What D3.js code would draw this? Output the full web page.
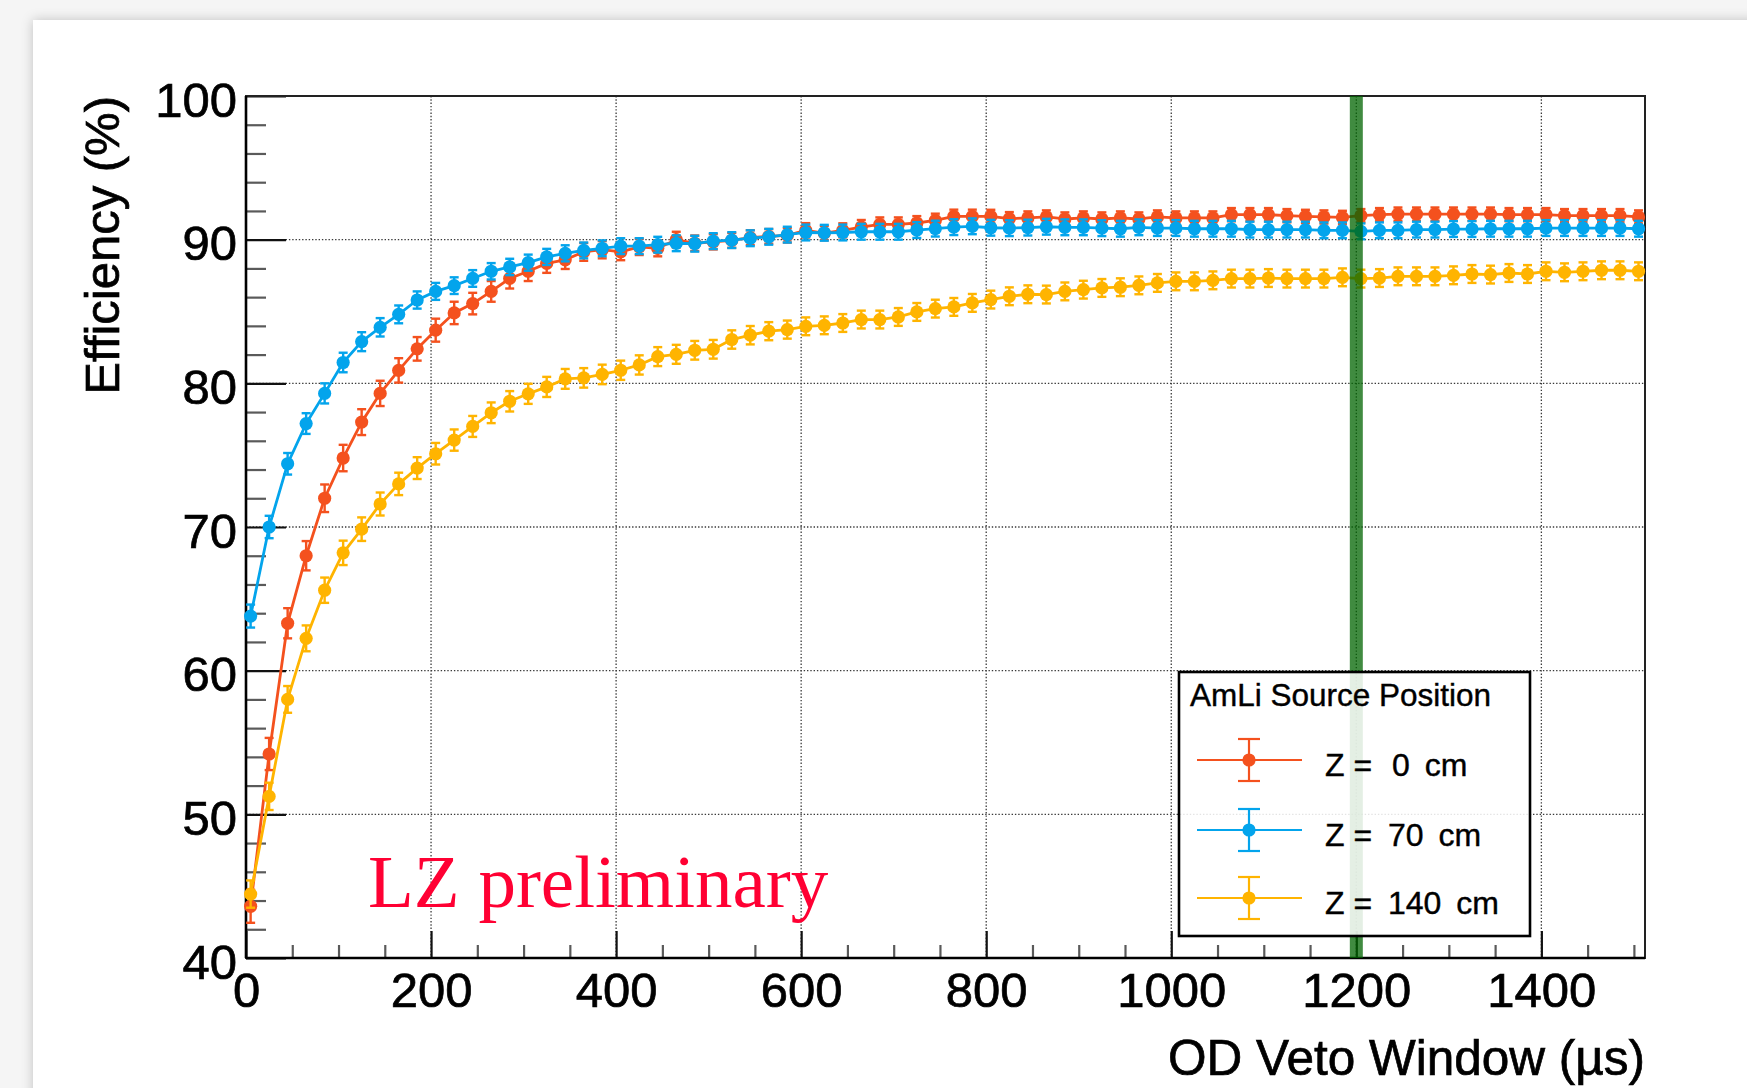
<!DOCTYPE html>
<html>
<head>
<meta charset="utf-8">
<script src="https://cdn.jsdelivr.net/npm/d3@7"></script>
<style>
  html, body { margin: 0; padding: 0; background: #f4f4f4; }
  svg { display: block; }
</style>
</head>
<body>
<svg id="chart" width="1747" height="1088"></svg>
<script>
// OD veto window length (µs) for each efficiency measurement
const windowUs = [5,25,45,65,85,105,125,145,165,185,205,225,245,265,285,305,325,345,365,385,
  405,425,445,465,485,505,525,545,565,585,605,625,645,665,685,705,725,745,765,785,
  805,825,845,865,885,905,925,945,965,985,1005,1025,1045,1065,1085,1105,1125,1145,1165,1185,
  1205,1225,1245,1265,1285,1305,1325,1345,1365,1385,1405,1425,1445,1465,1485,1505];

// Neutron tagging efficiency (%) for each AmLi source height
const effZ0 = [43.6,54.2,63.3,68.0,72.0,74.8,77.3,79.3,80.9,82.4,
  83.7,84.9,85.55,86.4,87.3,87.8,88.35,88.6,89.15,89.3,
  89.15,89.5,89.4,90.0,89.75,89.85,89.95,90.14,90.23,90.3,
  90.65,90.46,90.65,90.88,91.07,91.07,91.16,91.34,91.62,91.62,
  91.62,91.46,91.51,91.58,91.44,91.51,91.44,91.51,91.44,91.58,
  91.51,91.51,91.51,91.74,91.74,91.74,91.67,91.62,91.58,91.55,
  91.67,91.74,91.78,91.78,91.78,91.78,91.78,91.78,91.74,91.74,
  91.74,91.67,91.67,91.67,91.67,91.58];
const effZ70 = [63.8,70.0,74.4,77.2,79.3,81.45,82.9,83.9,84.8,85.8,
  86.4,86.8,87.3,87.8,88.1,88.4,88.8,89.05,89.25,89.4,
  89.55,89.55,89.65,89.75,89.72,89.9,89.97,90.1,90.2,90.35,
  90.5,90.48,90.5,90.55,90.55,90.55,90.67,90.77,90.87,90.93,
  90.83,90.8,90.84,90.9,90.86,90.86,90.8,90.76,90.86,90.81,
  90.81,90.76,90.76,90.76,90.7,90.7,90.7,90.7,90.65,90.65,
  90.58,90.65,90.65,90.7,90.7,90.74,90.74,90.76,90.76,90.76,
  90.81,90.81,90.81,90.81,90.81,90.76];
const effZ140 = [44.45,51.25,58.0,62.25,65.6,68.2,69.85,71.6,73.0,74.1,
  75.1,76.05,77.0,77.95,78.75,79.27,79.75,80.31,80.38,80.62,
  80.91,81.28,81.86,82.02,82.3,82.37,83.05,83.35,83.63,83.74,
  83.97,84.04,84.2,84.44,84.44,84.62,84.97,85.2,85.32,85.6,
  85.83,86.06,86.2,86.18,86.4,86.52,86.64,86.69,86.82,86.99,
  87.1,87.1,87.17,87.29,87.29,87.33,87.29,87.29,87.29,87.38,
  87.29,87.33,87.45,87.45,87.45,87.52,87.61,87.57,87.68,87.61,
  87.8,87.73,87.8,87.87,87.87,87.8];

// Statistical uncertainties (%) on each point
const errZ0 = [1.15,1.12,1.05,1.02,0.96,0.92,0.9,0.88,0.85,0.82,
  0.8,0.78,0.75,0.72,0.7,0.68,0.66,0.64,0.62,0.6,
  0.58,0.57,0.56,0.55,0.54,0.53,0.52,0.52,0.51,0.5,
  0.5,0.5,0.49,0.49,0.48,0.48,0.48,0.47,0.47,0.47,
  0.46,0.46,0.46,0.46,0.46,0.46,0.46,0.46,0.46,0.46,
  0.46,0.46,0.46,0.46,0.46,0.46,0.46,0.46,0.46,0.46,
  0.46,0.46,0.46,0.46,0.46,0.46,0.46,0.46,0.46,0.46,
  0.46,0.46,0.46,0.46,0.46,0.46];
const errZ70 = [0.8,0.78,0.75,0.72,0.7,0.68,0.66,0.64,0.62,0.6,
  0.59,0.58,0.58,0.57,0.57,0.56,0.56,0.56,0.55,0.55,
  0.55,0.55,0.55,0.55,0.55,0.55,0.55,0.55,0.55,0.55,
  0.55,0.55,0.55,0.55,0.55,0.55,0.55,0.55,0.55,0.55,
  0.55,0.55,0.55,0.55,0.55,0.55,0.55,0.55,0.55,0.55,
  0.55,0.55,0.55,0.55,0.55,0.55,0.55,0.55,0.55,0.55,
  0.55,0.55,0.55,0.55,0.55,0.55,0.55,0.55,0.55,0.55,
  0.55,0.55,0.55,0.55,0.55,0.55];
const errZ140 = [0.95,0.95,0.93,0.9,0.88,0.85,0.82,0.8,0.78,0.76,
  0.75,0.74,0.73,0.72,0.71,0.7,0.7,0.69,0.68,0.68,
  0.67,0.67,0.66,0.66,0.65,0.65,0.64,0.64,0.63,0.63,
  0.62,0.62,0.62,0.62,0.62,0.62,0.62,0.62,0.62,0.62,
  0.62,0.62,0.62,0.62,0.62,0.62,0.62,0.62,0.62,0.62,
  0.62,0.62,0.62,0.62,0.62,0.62,0.62,0.62,0.62,0.62,
  0.62,0.62,0.62,0.62,0.62,0.62,0.62,0.62,0.62,0.62,
  0.62,0.62,0.62,0.62,0.62,0.62];

const seriesLabels = ["Z =  0 cm", "Z = 70 cm", "Z = 140 cm"];
const seriesColors = ["#f4511e", "#03a4ec", "#ffb400"];
const xTickValues = [0, 200, 400, 600, 800, 1000, 1200, 1400];
const yTickValues = [40, 50, 60, 70, 80, 90, 100];
const chosenWindow = 1200;
const xDomain = [0, 1512];
const yDomain = [40, 100];

const series = [
  { label: seriesLabels[0], color: seriesColors[0], y: effZ0, err: errZ0 },
  { label: seriesLabels[1], color: seriesColors[1], y: effZ70, err: errZ70 },
  { label: seriesLabels[2], color: seriesColors[2], y: effZ140, err: errZ140 }
];

const svg = d3.select("#chart");
const W = 1747, H = 1088;
const frame = { left: 246, right: 1645, top: 96, bottom: 958 };

const x = d3.scaleLinear().domain(xDomain).range([frame.left, frame.right]);
const y = d3.scaleLinear().domain(yDomain).range([frame.bottom, frame.top]);

// page background and the white card with a soft shadow
const defs = svg.append("defs");
const sh = defs.append("filter").attr("id", "cardShadow")
  .attr("x", "-5%").attr("y", "-5%").attr("width", "110%").attr("height", "110%");
sh.append("feDropShadow").attr("dx", 0).attr("dy", 0).attr("stdDeviation", 6)
  .attr("flood-color", "#000").attr("flood-opacity", 0.22);
svg.append("rect").attr("width", W).attr("height", H).attr("fill", "#f5f5f5");
svg.append("rect").attr("x", 33).attr("y", 20).attr("width", W + 40).attr("height", H + 40)
  .attr("fill", "#ffffff").attr("filter", "url(#cardShadow)");

const font = "'Liberation Sans', Arial, Helvetica, sans-serif";
const textWeight = 0.7; // thin outline so glyphs carry the same weight as the ROOT export

// dotted grid at the major ticks
const grid = svg.append("g");
grid.selectAll("line.gx").data(xTickValues.filter(v => v > xDomain[0]))
  .join("line").attr("class", "gx")
  .attr("x1", d => x(d)).attr("x2", d => x(d))
  .attr("y1", frame.top).attr("y2", frame.bottom)
  .attr("stroke", "#3a3a3a").attr("stroke-width", 1.3).attr("stroke-dasharray", "1.4,1.9");
grid.selectAll("line.gy").data(yTickValues.filter(v => v > yDomain[0] && v < yDomain[1]))
  .join("line").attr("class", "gy")
  .attr("x1", frame.left).attr("x2", frame.right)
  .attr("y1", d => y(d)).attr("y2", d => y(d))
  .attr("stroke", "#3a3a3a").attr("stroke-width", 1.3).attr("stroke-dasharray", "1.4,1.9");

// y axis: minor ticks every 2 %, major every 10 %, all pointing into the frame
const yMinor = y.ticks(30).filter(v => yTickValues.indexOf(v) < 0);
svg.append("g").attr("transform", `translate(${frame.left},0)`)
  .call(d3.axisLeft(y).tickValues(yMinor).tickSizeInner(-20).tickSizeOuter(0).tickFormat(""))
  .call(g => g.select(".domain").remove())
  .call(g => g.selectAll(".tick line").attr("stroke", "#5a5a5a").attr("stroke-width", 2.2));
svg.append("g").attr("transform", `translate(${frame.left},0)`)
  .call(d3.axisLeft(y).tickValues(yTickValues).tickSizeInner(-40).tickSizeOuter(0).tickPadding(9)
    .tickFormat(d3.format("d")))
  .call(g => g.select(".domain").remove())
  .call(g => g.selectAll(".tick line").attr("stroke", "#111").attr("stroke-width", 2.2))
  .call(g => g.selectAll(".tick text").attr("font-family", font).attr("font-size", 49)
    .attr("fill", "#000").attr("stroke", "#000").attr("stroke-width", textWeight).attr("dy", "0.41em"));

// x axis: minor ticks every 50 µs, major every 200 µs
const xMinor = d3.range(0, xDomain[1], 50).filter(v => xTickValues.indexOf(v) < 0);
svg.append("g").attr("transform", `translate(0,${frame.bottom})`)
  .call(d3.axisBottom(x).tickValues(xMinor).tickSizeInner(-13).tickSizeOuter(0).tickFormat(""))
  .call(g => g.select(".domain").remove())
  .call(g => g.selectAll(".tick line").attr("stroke", "#5a5a5a").attr("stroke-width", 2.2));
svg.append("g").attr("transform", `translate(0,${frame.bottom})`)
  .call(d3.axisBottom(x).tickValues(xTickValues).tickSizeInner(-27).tickSizeOuter(0).tickPadding(14)
    .tickFormat(d3.format("d")))
  .call(g => g.select(".domain").remove())
  .call(g => g.selectAll(".tick line").attr("stroke", "#111").attr("stroke-width", 2.2))
  .call(g => g.selectAll(".tick text").attr("font-family", font).attr("font-size", 49)
    .attr("fill", "#000").attr("stroke", "#000").attr("stroke-width", textWeight));

// frame
svg.append("rect").attr("x", frame.left).attr("y", frame.top)
  .attr("width", frame.right - frame.left).attr("height", frame.bottom - frame.top)
  .attr("fill", "none").attr("stroke", "#222").attr("stroke-width", 2);
svg.append("line").attr("x1", frame.left).attr("x2", frame.right)
  .attr("y1", frame.bottom).attr("y2", frame.bottom).attr("stroke", "#000").attr("stroke-width", 2.6);
svg.append("line").attr("x1", frame.left).attr("x2", frame.left)
  .attr("y1", frame.top).attr("y2", frame.bottom).attr("stroke", "#000").attr("stroke-width", 2.6);

// axis titles
svg.append("text").attr("x", frame.right).attr("y", 1075).attr("text-anchor", "end")
  .attr("font-family", font).attr("font-size", 49.5).attr("fill", "#000")
  .attr("stroke", "#000").attr("stroke-width", textWeight)
  .text("OD Veto Window (µs)");
svg.append("text").attr("transform", `translate(119,${frame.top}) rotate(-90)`)
  .attr("text-anchor", "end").attr("font-family", font).attr("font-size", 49).attr("fill", "#000")
  .attr("stroke", "#000").attr("stroke-width", textWeight)
  .text("Efficiency (%)");

// data: connecting line, error bars with end caps, filled circle markers
const line = d3.line().x((d, i) => x(windowUs[i])).y(d => y(d));
const capHalf = 4.5;
series.forEach(s => {
  const g = svg.append("g");
  g.append("path").datum(s.y).attr("d", line)
    .attr("fill", "none").attr("stroke", s.color).attr("stroke-width", 2.8).attr("stroke-linejoin", "round");
  const pts = s.y.map((v, i) => ({ xv: windowUs[i], yv: v, e: s.err[i] }));
  const eb = g.selectAll("g.eb").data(pts).join("g").attr("class", "eb")
    .attr("stroke", s.color).attr("stroke-width", 2.4);
  eb.append("line").attr("x1", d => x(d.xv)).attr("x2", d => x(d.xv))
    .attr("y1", d => y(d.yv + d.e)).attr("y2", d => y(d.yv - d.e));
  eb.append("line").attr("x1", d => x(d.xv) - capHalf).attr("x2", d => x(d.xv) + capHalf)
    .attr("y1", d => y(d.yv + d.e)).attr("y2", d => y(d.yv + d.e));
  eb.append("line").attr("x1", d => x(d.xv) - capHalf).attr("x2", d => x(d.xv) + capHalf)
    .attr("y1", d => y(d.yv - d.e)).attr("y2", d => y(d.yv - d.e));
  g.selectAll("circle").data(pts).join("circle")
    .attr("cx", d => x(d.xv)).attr("cy", d => y(d.yv)).attr("r", 6.6).attr("fill", s.color);
});

// chosen veto window
svg.append("rect").attr("x", x(chosenWindow) - 6.5).attr("width", 13)
  .attr("y", frame.top).attr("height", frame.bottom - frame.top)
  .attr("fill", "#006400").attr("opacity", 0.75);

// preliminary stamp
svg.append("text").attr("x", 368).attr("y", 907)
  .attr("font-family", "'Liberation Serif', 'Times New Roman', serif").attr("font-size", 75)
  .attr("fill", "#ff0033").text("LZ preliminary");

// legend
const leg = { x: 1179, y: 672, w: 351, h: 264 };
const lg = svg.append("g");
lg.append("rect").attr("x", leg.x).attr("y", leg.y).attr("width", leg.w).attr("height", leg.h)
  .attr("fill", "#ffffff").attr("fill-opacity", 0.86).attr("stroke", "#000").attr("stroke-width", 2.6);
lg.append("text").attr("x", 1190).attr("y", 706).attr("font-family", font).attr("font-size", 31.5)
  .attr("fill", "#000").attr("stroke", "#000").attr("stroke-width", 0.4).text("AmLi Source Position");
const rowY = [760, 830, 898];
const valueX = [1392, 1388, 1388];
series.forEach((s, i) => {
  const cy = rowY[i];
  const r = lg.append("g").attr("stroke", s.color).attr("stroke-width", 2.2);
  r.append("line").attr("x1", 1197).attr("x2", 1302).attr("y1", cy).attr("y2", cy);
  r.append("line").attr("x1", 1249).attr("x2", 1249).attr("y1", cy - 21).attr("y2", cy + 21);
  r.append("line").attr("x1", 1238).attr("x2", 1260).attr("y1", cy - 21).attr("y2", cy - 21);
  r.append("line").attr("x1", 1238).attr("x2", 1260).attr("y1", cy + 21).attr("y2", cy + 21);
  lg.append("circle").attr("cx", 1249).attr("cy", cy).attr("r", 6.6).attr("fill", s.color);
  // "Z =" followed by the height, the heights in their own column
  const parts = s.label.split("=");
  const t = lg.append("text").attr("y", cy + 16).attr("font-family", font).attr("font-size", 32)
    .attr("fill", "#000").attr("stroke", "#000").attr("stroke-width", 0.4);
  t.append("tspan").attr("x", 1325).text(parts[0].trim() + " =");
  t.append("tspan").attr("x", valueX[i]).attr("word-spacing", 6).text(parts[1].trim());
});
</script>
</body>
</html>
